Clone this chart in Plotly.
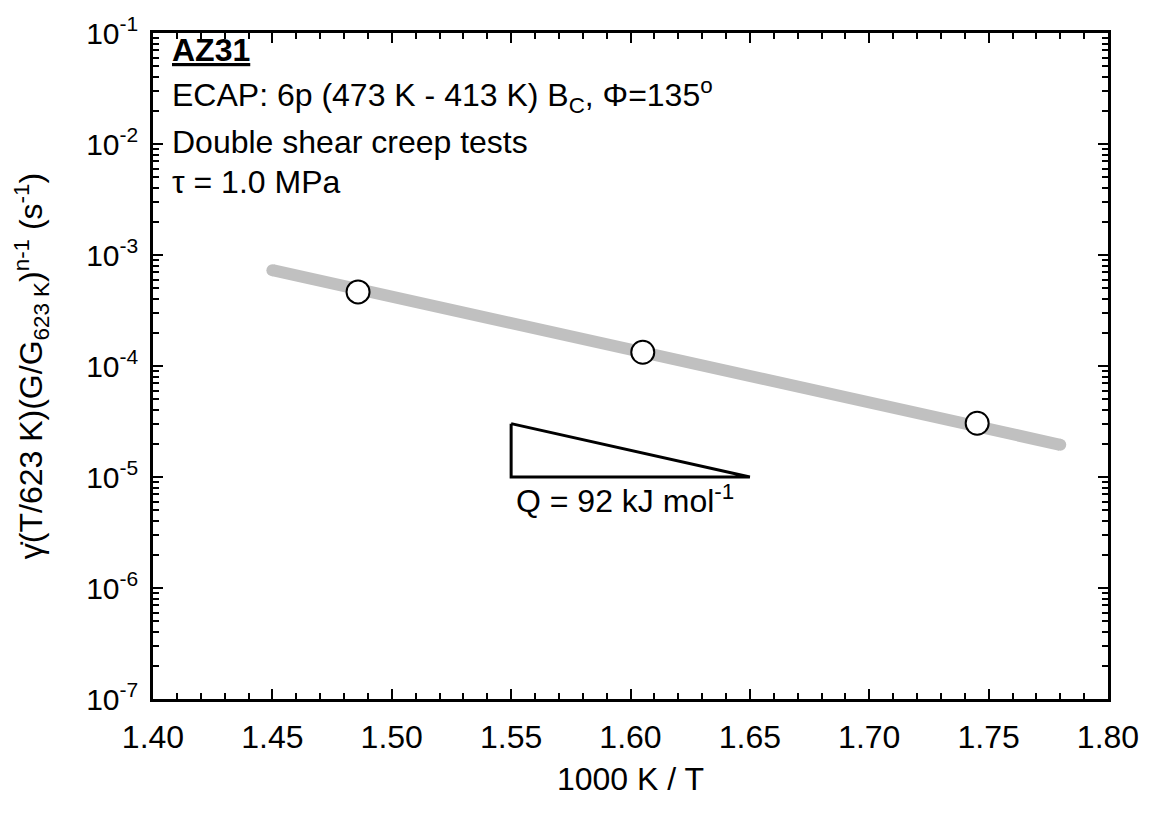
import numpy as np
import plotly.graph_objects as go

# Creep test temperatures (K) and normalized shear strain rates (s^-1)
temps_K = [673, 623, 573]
x_inv_T = [1000.0 / t for t in temps_K]
rate = [4.65e-4, 1.33e-4, 3.05e-5]

# Fitted Arrhenius line end points
fit_x = [1.45, 1.78]
fit_y = [7.3e-4, 1.95e-5]

# Activation-energy slope triangle
Q_kJ = 92
R = 8.314
tri_x0, tri_x1 = 1.55, 1.65
tri_base = 1.0e-5
tri_top = tri_base * np.exp(Q_kJ * 1000 / R * (tri_x1 - tri_x0) / 1000)
tri_x = [tri_x0, tri_x0, tri_x1, tri_x0]
tri_y = [tri_top, tri_base, tri_base, tri_top]

x_ticks = [1.40, 1.45, 1.50, 1.55, 1.60, 1.65, 1.70, 1.75, 1.80]
y_exps = [-7, -6, -5, -4, -3, -2, -1]
y_ticks = [10.0 ** e for e in y_exps]
y_ticktext = [f"10<sup>{e}</sup>" for e in y_exps]
y_minor = [m * 10.0 ** e for e in y_exps[:-1] for m in range(2, 10)]
x_minor = [round(1.40 + 0.01 * i, 2) for i in range(41)]

FONT = "Arial, Liberation Sans, sans-serif"

fig = go.Figure()
# thick grey fit line; end markers give it rounded caps
fig.add_trace(go.Scatter(
    x=fit_x, y=fit_y, mode="lines+markers",
    line=dict(color="#c0c0c0", width=12),
    marker=dict(size=12, color="#c0c0c0", line=dict(width=0)),
    hoverinfo="skip", showlegend=False,
))
fig.add_trace(go.Scatter(
    x=tri_x, y=tri_y, mode="lines",
    line=dict(color="black", width=3),
    hoverinfo="skip", showlegend=False,
))
fig.add_trace(go.Scatter(
    x=x_inv_T, y=rate, mode="markers",
    marker=dict(symbol="circle", size=23, color="white",
                line=dict(color="black", width=2)),
    showlegend=False,
))

text_lines = [
    ("<b><u>AZ31</u></b>", 0.975),
    ("ECAP: 6p (473 K - 413 K) B<sub>C</sub>, Φ=135<sup>o</sup>", 0.906),
    ("Double shear creep tests", 0.837),
    ("τ = 1.0 MPa", 0.777),
]
for txt, yp in text_lines:
    fig.add_annotation(
        text=txt, xref="paper", yref="paper", x=0.0175, y=yp,
        xanchor="left", yanchor="middle", showarrow=False,
        font=dict(family=FONT, size=32, color="black"),
    )

fig.add_annotation(
    text=f"Q = {Q_kJ} kJ mol<sup>-1</sup>", xref="x", yref="y",
    x=1.5512, y=-5.2, xanchor="left", yanchor="middle", showarrow=False,
    font=dict(family=FONT, size=32, color="black"),
)

fig.update_xaxes(
    range=[1.40, 1.80], tickvals=x_ticks,
    ticktext=[f"{v:.2f}" for v in x_ticks],
    ticks="inside", ticklen=10, tickwidth=2, tickcolor="black",
    minor=dict(tickvals=x_minor, ticks="inside", ticklen=6,
               tickwidth=2, tickcolor="black", showgrid=False),
    showline=True, linewidth=2.5, linecolor="black", mirror="ticks",
    showgrid=False, zeroline=False,
    tickfont=dict(family=FONT, size=32, color="black"),
    ticklabelstandoff=8,
    title=dict(text="1000 K / T", font=dict(family=FONT, size=32, color="black"),
               standoff=14),
)
fig.update_yaxes(
    type="log", range=[-7, -1], tickvals=y_ticks, ticktext=y_ticktext,
    ticks="inside", ticklen=10, tickwidth=2, tickcolor="black",
    minor=dict(tickvals=y_minor, ticks="inside", ticklen=6,
               tickwidth=2, tickcolor="black", showgrid=False),
    showline=True, linewidth=2.5, linecolor="black", mirror="ticks",
    showgrid=False, zeroline=False,
    tickfont=dict(family=FONT, size=30, color="black"),
    ticklabelstandoff=6,
    title=dict(text="γ̇(T/623 K)(G/G<sub>623 K</sub>)<sup>n-1</sup> (s<sup>-1</sup>)",
               font=dict(family=FONT, size=32, color="black"), standoff=34),
)
fig.update_layout(
    width=1151, height=813,
    margin=dict(l=153, r=38, t=25, b=114),
    paper_bgcolor="white", plot_bgcolor="white",
    showlegend=False,
)
fig.write_html("out.html")
